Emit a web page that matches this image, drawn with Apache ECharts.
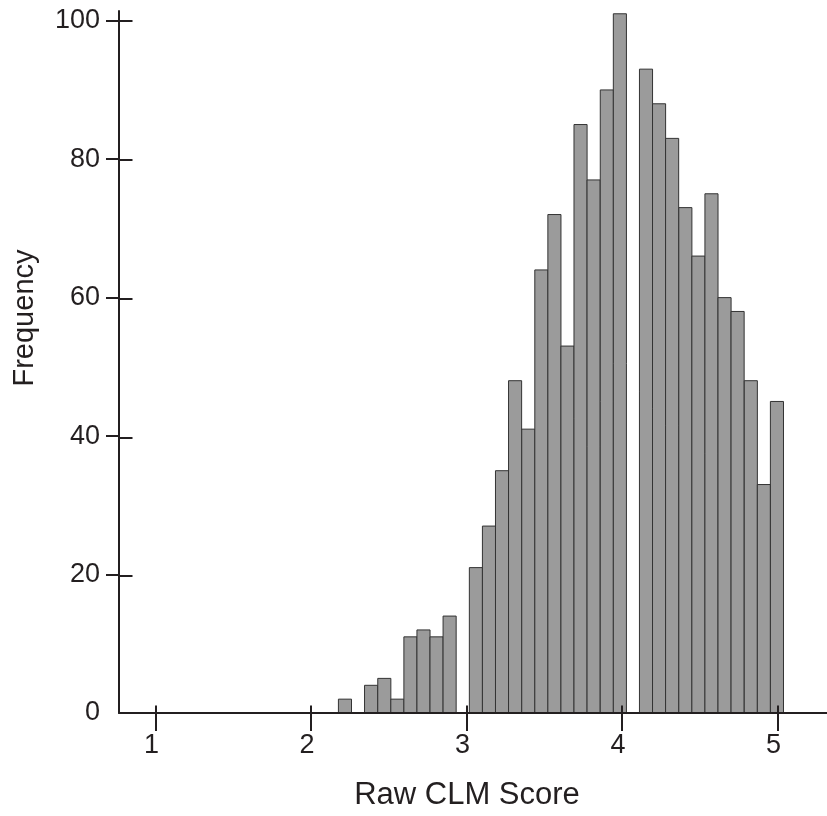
<!DOCTYPE html>
<html>
<head>
<meta charset="utf-8">
<script src="https://cdn.jsdelivr.net/npm/echarts@6/dist/echarts.min.js"></script>
<style>
  html, body { margin: 0; padding: 0; background: #ffffff; }
  #chart { width: 827px; height: 816px; }
</style>
</head>
<body>
<div id="chart"></div>
<script>
// Histogram bins: lower edge of each non-empty bin (Raw CLM Score) and its frequency
const binWidth = 0.0842;
const binStarts = [2.176, 2.344, 2.429, 2.513, 2.597, 2.681, 2.765, 2.849,
                   3.018, 3.102, 3.186, 3.270, 3.355, 3.439, 3.523, 3.607, 3.691, 3.775, 3.860, 3.944,
                   4.112, 4.196, 4.280, 4.365, 4.449, 4.533, 4.617, 4.701, 4.786, 4.870, 4.954];
const frequencies = [2, 4, 5, 2, 11, 12, 11, 14,
                     21, 27, 35, 48, 41, 64, 72, 53, 85, 77, 90, 101,
                     93, 88, 83, 73, 66, 75, 60, 58, 48, 33, 45];
const xTicks = [1, 2, 3, 4, 5];
const yTicks = [0, 20, 40, 60, 80, 100];
const xName = 'Raw CLM Score';
const yName = 'Frequency';

const xMin = 0.765, xMax = 5.318, yMin = 0, yMax = 101.4;
const ink = '#231f20';
const font = 'Liberation Sans, Arial, Helvetica, sans-serif';
// the 0 tick coincides with the x axis line, so only the others get tick marks
const yTickMarks = yTicks.filter(v => v !== 0);

const chart = echarts.init(document.getElementById('chart'), null, { renderer: 'canvas' });

const gridBox = { left: 119, right: 0, top: 11, bottom: 101, containLabel: false };

const option = {
  animation: false,
  backgroundColor: '#ffffff',
  grid: [Object.assign({}, gridBox), Object.assign({}, gridBox)],
  xAxis: [
    {
      type: 'value', gridIndex: 0, min: xMin, max: xMax, z: 5,
      splitLine: { show: false },
      axisLine: { show: true, lineStyle: { color: ink, width: 2 } },
      axisTick: { show: true, inside: false, length: 18, customValues: xTicks, lineStyle: { color: ink, width: 2 } },
      axisLabel: { show: true, customValues: xTicks, margin: 19, color: ink, fontSize: 27, fontFamily: font,
                   padding: [0, 8, 0, 0] },
      name: xName, nameLocation: 'middle', nameGap: 67,
      nameTextStyle: { color: ink, fontSize: 31, fontFamily: font, padding: [0, 12, 0, 0] }
    },
    {
      type: 'value', gridIndex: 1, min: xMin, max: xMax, z: 5,
      splitLine: { show: false },
      axisLine: { show: false },
      axisTick: { show: true, inside: true, length: 9.5, customValues: xTicks, lineStyle: { color: ink, width: 2 } },
      axisLabel: { show: false }
    }
  ],
  yAxis: [
    {
      type: 'value', gridIndex: 0, min: yMin, max: yMax, z: 5,
      splitLine: { show: false },
      axisLine: { show: true, lineStyle: { color: ink, width: 2 } },
      axisTick: { show: true, inside: false, length: 13, customValues: yTickMarks, lineStyle: { color: ink, width: 2 } },
      axisLabel: { show: true, customValues: yTicks, margin: 19, color: ink, fontSize: 27, fontFamily: font },
      name: yName, nameLocation: 'middle', nameGap: 80,
      nameTextStyle: { color: ink, fontSize: 29, fontFamily: font, padding: [0, 0, 0, 88] }
    },
    {
      type: 'value', gridIndex: 1, min: yMin, max: yMax, z: 5,
      splitLine: { show: false },
      axisLine: { show: false },
      axisTick: { show: true, inside: true, length: 13.5, customValues: yTickMarks, lineStyle: { color: ink, width: 2 } },
      axisLabel: { show: false }
    }
  ],
  series: [
    {
      type: 'custom',
      xAxisIndex: 0, yAxisIndex: 0, z: 1,
      data: binStarts.map((s, i) => [s, frequencies[i]]),
      renderItem: function (params, api) {
        const x0 = api.value(0);
        const c = api.value(1);
        const pTop = api.coord([x0, c]);
        const pBot = api.coord([x0 + binWidth, 0]);
        return {
          type: 'rect',
          shape: { x: pTop[0], y: pTop[1], width: pBot[0] - pTop[0], height: pBot[1] - pTop[1] },
          style: { fill: '#9b9b9b', stroke: '#333333', lineWidth: 1 }
        };
      }
    }
  ]
};

chart.setOption(option);
</script>
</body>
</html>
